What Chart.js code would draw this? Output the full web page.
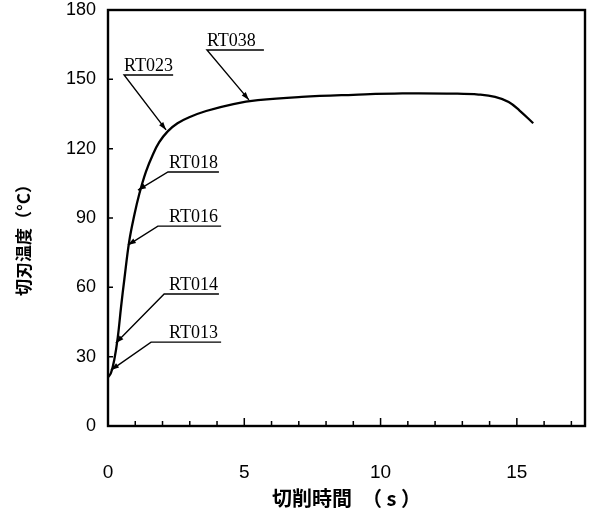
<!DOCTYPE html>
<html><head><meta charset="utf-8">
<script src="https://cdn.jsdelivr.net/npm/chart.js@4.4.0/dist/chart.umd.min.js"></script>
<style>html,body{margin:0;padding:0;background:#fff}#wrap{width:589px;height:521px}</style>
</head><body><div id="wrap"><canvas id="c" width="589" height="521"></canvas></div>
<script>
// Data
const times = [0, 0.11, 0.23, 0.36, 0.48, 0.6, 0.78, 0.97, 1.15, 1.39, 1.64, 1.88, 2.19, 2.55, 2.98, 3.6, 4.6, 5.5, 7.1, 9.0, 10.8, 12.8, 13.6, 14.2, 14.7, 15.1, 15.6];
const temps = [21, 23, 28.6, 38.5, 51.6, 63.5, 80, 91.5, 100.5, 110, 117.3, 122.8, 127.5, 131, 133.6, 136.3, 139.3, 141, 142.4, 143.3, 143.9, 143.8, 143.4, 142.4, 140.2, 136.5, 131];
const xTickLabels = [0, 5, 10, 15];
const yTickLabels = [0, 30, 60, 90, 120, 150, 180];
const yTitle = '切刃温度（°C）';
const xTitle = '切削時間　（ s ）';
// Callout labels (positions in data units)
const annLabels = ['RT038', 'RT023', 'RT018', 'RT016', 'RT014', 'RT013'];
const annTipX   = [5.17, 2.13, 1.10, 0.73, 0.29, 0.11];
const annTipY   = [141.1, 128.1, 102.1, 78.3, 35.9, 24.2];
const annLineX0 = [3.63, 0.59, 2.20, 1.83, 2.06, 1.58];
const annLineX1 = [5.72, 2.39, 4.07, 4.15, 4.07, 4.15];
const annLineY  = [162.7, 151.9, 109.9, 86.5, 57.1, 36.3];
const annTextX  = [3.63, 0.59, 2.24, 2.24, 2.24, 2.24];

const framePlugin = {
  id: 'frame',
  afterDraw(chart) {
    const {ctx, chartArea: a, scales: {x, y}} = chart;
    ctx.save();
    ctx.strokeStyle = '#000';
    // inward ticks
    ctx.lineWidth = 1.5;
    ctx.beginPath();
    for (let v = 1; v <= 17; v++) {
      const px = x.getPixelForValue(v);
      const len = (v % 5 === 0) ? 8 : 5;
      ctx.moveTo(px, a.bottom); ctx.lineTo(px, a.bottom - len);
    }
    yTickLabels.forEach(v => {
      if (v === 0 || v === 180) return;
      const py = y.getPixelForValue(v);
      ctx.moveTo(a.left, py); ctx.lineTo(a.left + 5, py);
    });
    ctx.stroke();
    // frame
    ctx.lineWidth = 2.4;
    ctx.strokeRect(a.left, a.top, a.right - a.left, a.bottom - a.top);
    // callouts
    ctx.lineWidth = 1.4;
    ctx.fillStyle = '#000';
    ctx.font = '18px "Liberation Serif", "DejaVu Serif", serif';
    ctx.textBaseline = 'alphabetic';
    ctx.textAlign = 'left';
    annLabels.forEach((lab, i) => {
      const lx0 = x.getPixelForValue(annLineX0[i]);
      const lx1 = x.getPixelForValue(annLineX1[i]);
      const ly = y.getPixelForValue(annLineY[i]);
      const tx = x.getPixelForValue(annTipX[i]);
      const ty = y.getPixelForValue(annTipY[i]);
      ctx.fillText(lab, x.getPixelForValue(annTextX[i]), ly - 4);
      ctx.beginPath();
      ctx.moveTo(lx1, ly); ctx.lineTo(lx0, ly); ctx.lineTo(tx, ty);
      ctx.stroke();
      // arrow head
      const ang = Math.atan2(ty - ly, tx - lx0);
      const L = 8, W = 2.6;
      ctx.beginPath();
      ctx.moveTo(tx, ty);
      ctx.lineTo(tx - L * Math.cos(ang) + W * Math.sin(ang), ty - L * Math.sin(ang) - W * Math.cos(ang));
      ctx.lineTo(tx - L * Math.cos(ang) - W * Math.sin(ang), ty - L * Math.sin(ang) + W * Math.cos(ang));
      ctx.closePath();
      ctx.fill();
    });
    // y title
    ctx.save();
    ctx.translate(24, 236);
    ctx.rotate(-Math.PI / 2);
    ctx.textAlign = 'center';
    ctx.textBaseline = 'middle';
    ctx.font = 'bold 17px "Noto Sans CJK JP", sans-serif';
    ctx.fillText(yTitle, 0, 0);
    ctx.restore();
    ctx.restore();
  }
};

new Chart(document.getElementById('c'), {
  type: 'scatter',
  data: {
    datasets: [{
      data: times.map((t, i) => ({x: t, y: temps[i]})),
      showLine: true,
      borderColor: '#000',
      borderWidth: 2.3,
      pointRadius: 0,
      tension: 0.4,
      fill: false
    }]
  },
  options: {
    responsive: false,
    animation: false,
    devicePixelRatio: 1,
    layout: {padding: {top: 10, right: 4, left: 0, bottom: 0}},
    plugins: {legend: {display: false}, tooltip: {enabled: false}},
    scales: {
      x: {
        type: 'linear', min: 0, max: 17.5,
        grid: {display: false, drawTicks: false},
        border: {display: false},
        afterFit: s => { s.height = 95; s.paddingLeft = 0; s.paddingRight = 0; },
        afterBuildTicks: s => { s.ticks = xTickLabels.map(v => ({value: v})); },
        ticks: {
          color: '#000', padding: 35,
          font: {family: '"Liberation Sans", Arial, sans-serif', size: 19},
          callback: v => String(v)
        },
        title: {
          display: true, text: xTitle, color: '#000',
          font: {family: '"Noto Sans CJK JP", sans-serif', size: 20, weight: 'bold'},
          padding: {top: 0, bottom: 11}
        }
      },
      y: {
        type: 'linear', min: 0, max: 180,
        grid: {display: false, drawTicks: false},
        border: {display: false},
        afterFit: s => { s.width = 108; s.paddingTop = 0; s.paddingBottom = 0; },
        afterBuildTicks: s => { s.ticks = yTickLabels.map(v => ({value: v})); },
        ticks: {
          color: '#000', padding: 12,
          font: {family: '"Liberation Sans", Arial, sans-serif', size: 18},
          callback: v => String(v)
        }
      }
    }
  },
  plugins: [framePlugin]
});
</script>
</body></html>
